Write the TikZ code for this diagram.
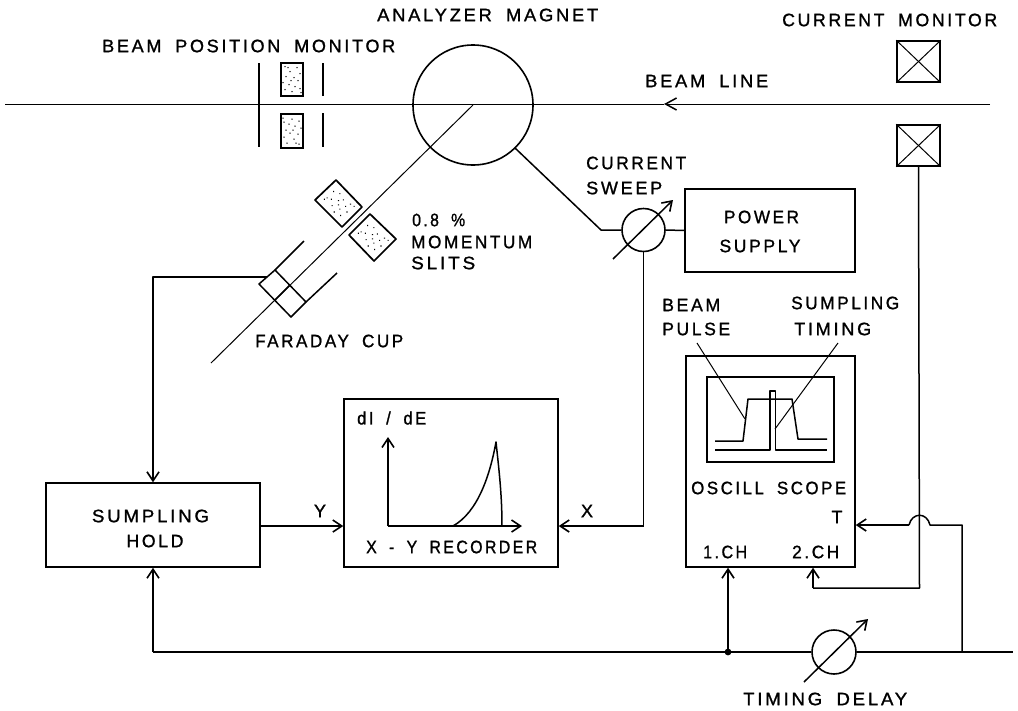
\documentclass[tikz,border=0pt]{standalone}
\usepackage{graphicx}
\usepackage{fontspec}
\setmainfont[LetterSpace=15,WordSpace=1.8,FakeBold=1.2]{Liberation Sans}
\usetikzlibrary{arrows.meta}
\newcommand{\fitw}[2]{\resizebox{#1pt}{\height}{#2}}
\tikzset{
  wire/.style={line width=1.5pt,line join=round},
  thin wire/.style={line width=1pt},
  arr/.style={wire,-{Straight Barb[length=9pt,width=12pt,line width=1.6pt]}},
  box/.style={draw,line width=1.5pt,inner sep=0pt,rectangle},
  ring/.style={draw,line width=1.6pt,circle,inner sep=0pt},
  lbl/.style={inner sep=0pt,anchor=west,font=\fontsize{18}{20}\selectfont},
  clbl/.style={inner sep=0pt,font=\fontsize{18}{20}\selectfont},
  bold box/.style={draw,line width=1.7pt,line join=round,fill=white},
}
\newcommand{\stipple}[4]{% centre x, y, rotation, scale
  \begin{scope}[shift={(#1,#2)},rotate=#3]
    \foreach \a/\b in {-7/-13,5/-12,-2/-8,8/-6,-6/-3,2/-2,-9/3,6/1,-3/5,3/7,8/9,-7/10,0/12,-4/-12,9/13,-1/1}
      \fill (\a*#4,\b*#4) circle (0.75pt);
  \end{scope}}
\begin{document}
\begin{tikzpicture}[x=1pt,y=-1pt]
\useasboundingbox (0,0) rectangle (1018,710);
% beam line
\coordinate (beamL) at (5,104);
\coordinate (beamR) at (990,104);
\coordinate (beamTip) at (664,104);
\draw[thin wire,-{Straight Barb[length=11pt,width=12pt,line width=1.5pt]}] (beamR) -- (beamTip);
\draw[thin wire] (beamTip) -- (beamL);
% magnet
\node[ring,minimum size=120pt] (mag) at (473,105) {};
\coordinate (branchEnd) at (211,363);
\draw[thin wire] (mag.center) -- (branchEnd);
% BPM
\coordinate (b1t) at (259,63); \coordinate (b1b) at (259,147);
\draw[wire] (b1t) -- (b1b);
\coordinate (b2t) at (323,63); \coordinate (b2m) at (323,96);
\coordinate (b3t) at (323,113); \coordinate (b3b) at (323,147);
\draw[wire] (b2t) -- (b2m) (b3t) -- (b3b);
\node[box,line width=1.7pt,minimum width=22pt,minimum height=33pt] (bpmA) at (292,79.5) {};
\node[box,line width=1.7pt,minimum width=22pt,minimum height=34pt] (bpmB) at (292,131) {};
\stipple{292}{79.5}{0}{1}
\stipple{292}{131}{180}{1}
% current monitors
\node[box,line width=1.7pt,minimum width=43pt,minimum height=41pt] (cmA) at (918.5,61.5) {};
\node[box,line width=1.7pt,minimum width=43pt,minimum height=41pt] (cmB) at (918.5,145.5) {};
\draw[thin wire] (cmA.north west) -- (cmA.south east) (cmA.north east) -- (cmA.south west);
\draw[thin wire] (cmB.north west) -- (cmB.south east) (cmB.north east) -- (cmB.south west);
% momentum slits
\coordinate (s1a) at (336,180); \coordinate (s1b) at (362,207);
\coordinate (s1c) at (342,227); \coordinate (s1d) at (315,200);
\draw[bold box] (s1a) -- (s1b) -- (s1c) -- (s1d) -- cycle;
\coordinate (s2a) at (370,214); \coordinate (s2b) at (396,239);
\coordinate (s2c) at (374,261); \coordinate (s2d) at (349,235);
\draw[bold box] (s2a) -- (s2b) -- (s2c) -- (s2d) -- cycle;
\stipple{338.5}{203.5}{45}{1}
\stipple{372.5}{237.5}{45}{1}
% faraday cup
\coordinate (f1) at (259,284); \coordinate (f2) at (275,270);
\coordinate (f3) at (306,302); \coordinate (f4) at (291,317);
\coordinate (f5) at (290,285); \coordinate (f6) at (275,300);
\coordinate (f7) at (304,241); \coordinate (f8) at (337,273);
\draw[wire] (f1) -- (f2) -- (f3) -- (f4) -- cycle;
\draw[wire] (f5) -- (f6) (f2) -- (f7) (f3) -- (f8);
% sweep and power supply
\node[ring,minimum size=43pt] (sweep) at (643.5,230) {};
\node[box,minimum width=170pt,minimum height=83pt] (ps) at (770,230.5) {};
\coordinate (magOut) at (515,148);
\coordinate (kink) at (601,230);
\draw[wire] (magOut) -- (kink) -- (sweep.west);
\draw[wire] (sweep.east) -- (ps.west);
\coordinate (swA) at (613,259); \coordinate (swB) at (673,200);
\draw[arr] (swA) -- (swB);
% recorder and hold
\node[box,minimum width=214pt,minimum height=168pt] (rec) at (451,483) {};
\node[box,minimum width=214pt,minimum height=84pt] (hold) at (153,525) {};
\coordinate (axO) at (388,526); \coordinate (axY) at (388,437); \coordinate (axX) at (522,526);
\draw[arr] (axO) -- (axY);
\draw[arr] (axO) -- (axX);
\coordinate (cv0) at (453,526); \coordinate (cvP) at (496,442); \coordinate (cvE) at (502,526);
\draw[wire] (cv0) .. controls (478,512) and (490,475) .. (cvP)
   .. controls (499,470) and (502,495) .. (cvE);
% connections to recorder
\coordinate (xCorner) at (643.5,526);
\coordinate (yStart) at (273,526);
\draw[wire] (sweep.south) -- (xCorner);
\draw[arr] (xCorner) -- (rec.east |- xCorner);
\draw[arr] (hold.east |- yStart) -- (rec.west |- yStart);
% faraday to hold
\coordinate (fLine) at (153,277);
\coordinate (fEnd) at (267,277);
\draw[arr] (fEnd) -- (fLine) -- (fLine |- hold.north);
% scope
\node[box,minimum width=169pt,minimum height=211pt] (scope) at (770.5,461.5) {};
\node[box,minimum width=127pt,minimum height=85pt] (screen) at (770.5,419.5) {};
\coordinate (tA) at (715,441); \coordinate (tB) at (743,441);
\coordinate (tC) at (748,399); \coordinate (tD) at (792,399);
\coordinate (tE) at (798,439); \coordinate (tF) at (827,439);
\draw[wire] (tA) -- (tB) -- (tC) -- (tD) -- (tE) -- (tF);
\coordinate (uA) at (715,450); \coordinate (uB) at (770,450);
\coordinate (uC) at (775.5,450); \coordinate (uD) at (827,450);
\coordinate (uE) at (770,391); \coordinate (uF) at (775.5,391);
\draw[wire] (uA) -- (uB) -- (uE) -- (uF) -- (uC) -- (uD);
\coordinate (lpA) at (697,343); \coordinate (lpB) at (745,419);
\coordinate (lsA) at (838,343); \coordinate (lsB) at (775,429);
\draw[thin wire] (lpA) -- (lpB);
\draw[thin wire] (lsA) -- (lsB);
% bottom bus
\coordinate (busL) at (153,652);
\coordinate (busR) at (1013,652);
\coordinate (junc) at (728,652);
\coordinate (tap) at (962,652);
\node[ring,minimum size=44pt] (delay) at (834,652) {};
\draw[arr] (busL) -- (busL |- hold.south);
\draw[wire] (busL) -- (delay.west) (delay.east) -- (busR);
\fill (junc) circle (3.4pt);
\draw[arr] (junc) -- (junc |- scope.south);
\coordinate (dlA) at (804,682); \coordinate (dlB) at (868,619);
\draw[arr] (dlA) -- (dlB);
% trigger with hop
\coordinate (tapTop) at (962,525);
\coordinate (hopR) at (930,525);
\coordinate (hopL) at (909,525);
\draw[wire] (tap) -- (tapTop) -- (hopR) .. controls (927,512) and (912,512) .. (hopL);
\draw[arr] (hopL) -- (scope.east |- hopL);
% 2.CH
\coordinate (chCorner) at (919.5,588);
\coordinate (ch2) at (813,588);
\draw[wire] (cmB.south) -- (chCorner) -- (ch2);
\draw[arr] (ch2) -- (ch2 |- scope.south);
% labels
\node[lbl] (t1) at (377,15) {\fitw{221}{ANALYZER MAGNET}};
\node[lbl] (t2) at (102,46) {\fitw{293}{BEAM POSITION MONITOR}};
\node[lbl] (t3) at (782,20) {\fitw{215}{CURRENT MONITOR}};
\node[lbl] (t4) at (645,81) {\fitw{123}{BEAM LINE}};
\node[lbl] (t5) at (586,163) {\fitw{100}{CURRENT}};
\node[lbl] (t6) at (586,188) {\fitw{76}{SWEEP}};
\node[lbl] (t7) at (412,220) {\fitw{53}{0.8 \%}};
\node[lbl] (t8) at (411,242) {\fitw{121}{MOMENTUM}};
\node[lbl] (t9) at (411,263) {\fitw{64}{SLITS}};
\node[lbl] (t10) at (255,341) {\fitw{148}{FARADAY CUP}};
\node[clbl] (t11) at (761.5,217) {\fitw{75}{POWER}};
\node[clbl] (t12) at (760,246) {\fitw{81}{SUPPLY}};
\node[lbl] (t13) at (662,305) {\fitw{58}{BEAM}};
\node[lbl] (t14) at (662,329) {\fitw{68}{PULSE}};
\node[lbl] (t15) at (791,303) {\fitw{108}{SUMPLING}};
\node[lbl] (t16) at (794,329) {\fitw{77}{TIMING}};
\node[lbl] (t17) at (691,488) {\fitw{155}{OSCILL SCOPE}};
\node[clbl] (t18) at (837,517) {T};
\node[lbl] (t19) at (703,552) {\fitw{44}{1.CH}};
\node[lbl] (t20) at (792,552) {\fitw{47}{2.CH}};
\node[lbl] (t21) at (743,699) {\fitw{164}{TIMING DELAY}};
\node[clbl] (t22) at (150.5,516) {\fitw{117}{SUMPLING}};
\node[clbl] (t23) at (155,541) {\fitw{57}{HOLD}};
\node[clbl] (t24) at (320,511) {Y};
\node[clbl] (t25) at (587,511) {X};
\node[lbl] (t26) at (357,418) {\fitw{69}{dI / dE}};
\node[lbl] (t27) at (366,547) {\fitw{171}{X - Y RECORDER}};
\end{tikzpicture}
\end{document}
